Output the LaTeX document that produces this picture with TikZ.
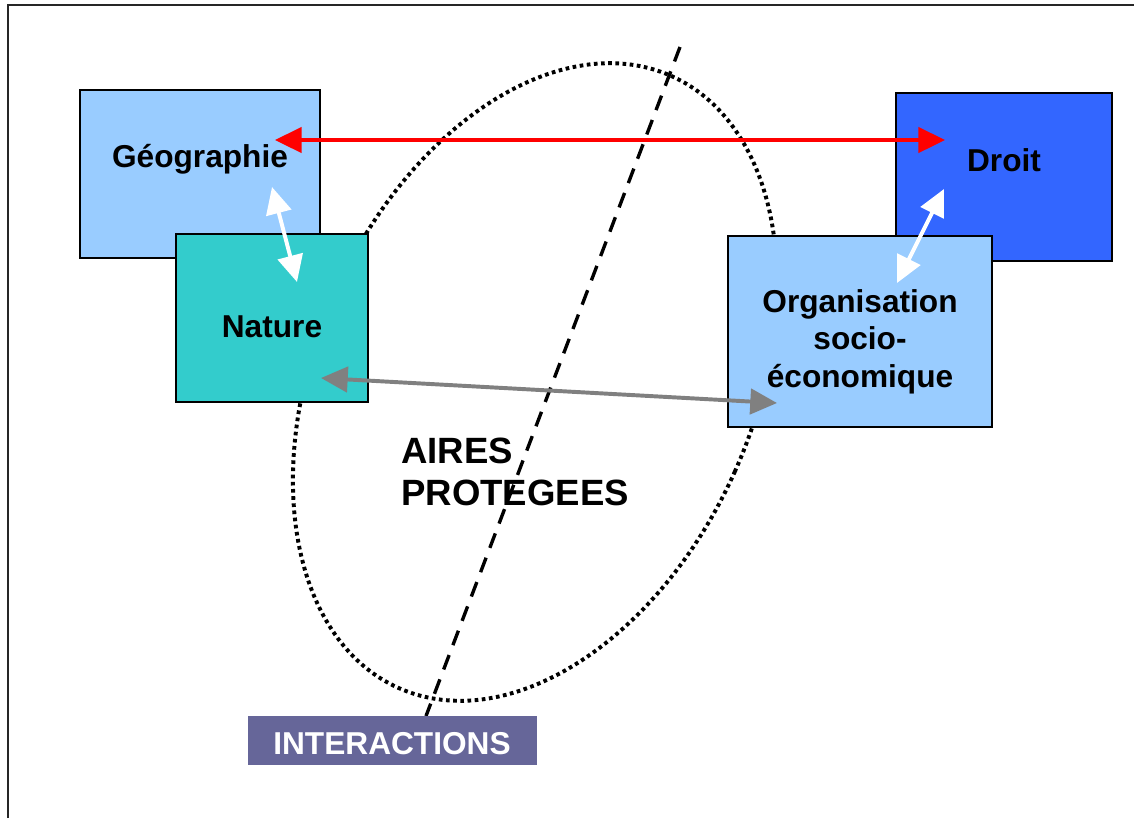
\documentclass[tikz,border=0pt]{standalone}
\usepackage{fontspec}
\setmainfont{Liberation Sans}
\usetikzlibrary{arrows.meta}
\definecolor{geoblue}{HTML}{99CCFF}
\definecolor{natteal}{HTML}{33CCCC}
\definecolor{droitblue}{HTML}{3366FF}
\definecolor{interpurple}{HTML}{666699}
\begin{document}
\begin{tikzpicture}[x=0.025cm, y=-0.025cm,
    box/.style={draw=black, line width=1.2pt, inner sep=0pt, minimum height=4.2cm},
    lbl/.style={font=\fontsize{22.5}{26.6}\selectfont\bfseries, anchor=base, inner sep=0pt, align=center},
    link/.style={line width=2.8pt, {Triangle[length=19pt,width=18pt]}-{Triangle[length=19pt,width=18pt]}}]
\useasboundingbox (0,0) rectangle (1134,818);
\draw[line width=1.4pt, black!85]
    (8,818) -- (8,5) -- (1134,5);

\draw[line width=2.8pt, dash pattern=on 2.6pt off 2.5pt]
    (535,382) ellipse [x radius=219, y radius=335, rotate=-24];

\coordinate (cutT) at (680,47);
\coordinate (cutB) at (426,716);
\draw[line width=2.4pt, dash pattern=on 11pt off 7.5pt]
    (cutT) -- (cutB);

\node[box, fill=geoblue, minimum width=6cm] (geo) at (200,174) {};
\node[box, fill=natteal, minimum width=4.8cm] (nat) at (272,318) {};
\node[box, fill=droitblue, minimum width=5.4cm] (droit) at (1004,177) {};
\node[box, fill=geoblue, minimum width=6.6cm, minimum height=4.775cm] (org) at (860,331.5) {};
\node[fill=interpurple, inner sep=0pt, minimum width=7.225cm, minimum height=1.225cm] (inter) at (392.5,740.5) {};

\node[lbl] (geoT) at (200,167) {Géographie};
\node[lbl] (natT) at (272,337) {Nature};
\node[lbl] (droitT) at (1004,171) {Droit};
\node[lbl] (orgT) at (860,387) {Organisation\\socio-\\économique};
\node[lbl, text=white] (interT) at (392,754) {INTERACTIONS};
\node[font=\fontsize{26}{29.8}\selectfont\bfseries, anchor=base west, inner sep=0pt, align=left]
    (aires) at (401,505) {AIRES\\PROTEGEES};

\coordinate (geoR) at (275,140);
\coordinate (droitL) at (945,140);
\coordinate (geoB) at (272,187);
\coordinate (natA) at (297,282);
\coordinate (droitB) at (944,189);
\coordinate (orgA) at (897,283);
\coordinate (natR) at (321,378);
\coordinate (orgL) at (777,403);

\draw[link, red] (geoR) -- (droitL);
\draw[link, white] (geoB) -- (natA);
\draw[link, white] (droitB) -- (orgA);
\draw[link, gray] (natR) -- (orgL);
\end{tikzpicture}
\end{document}
